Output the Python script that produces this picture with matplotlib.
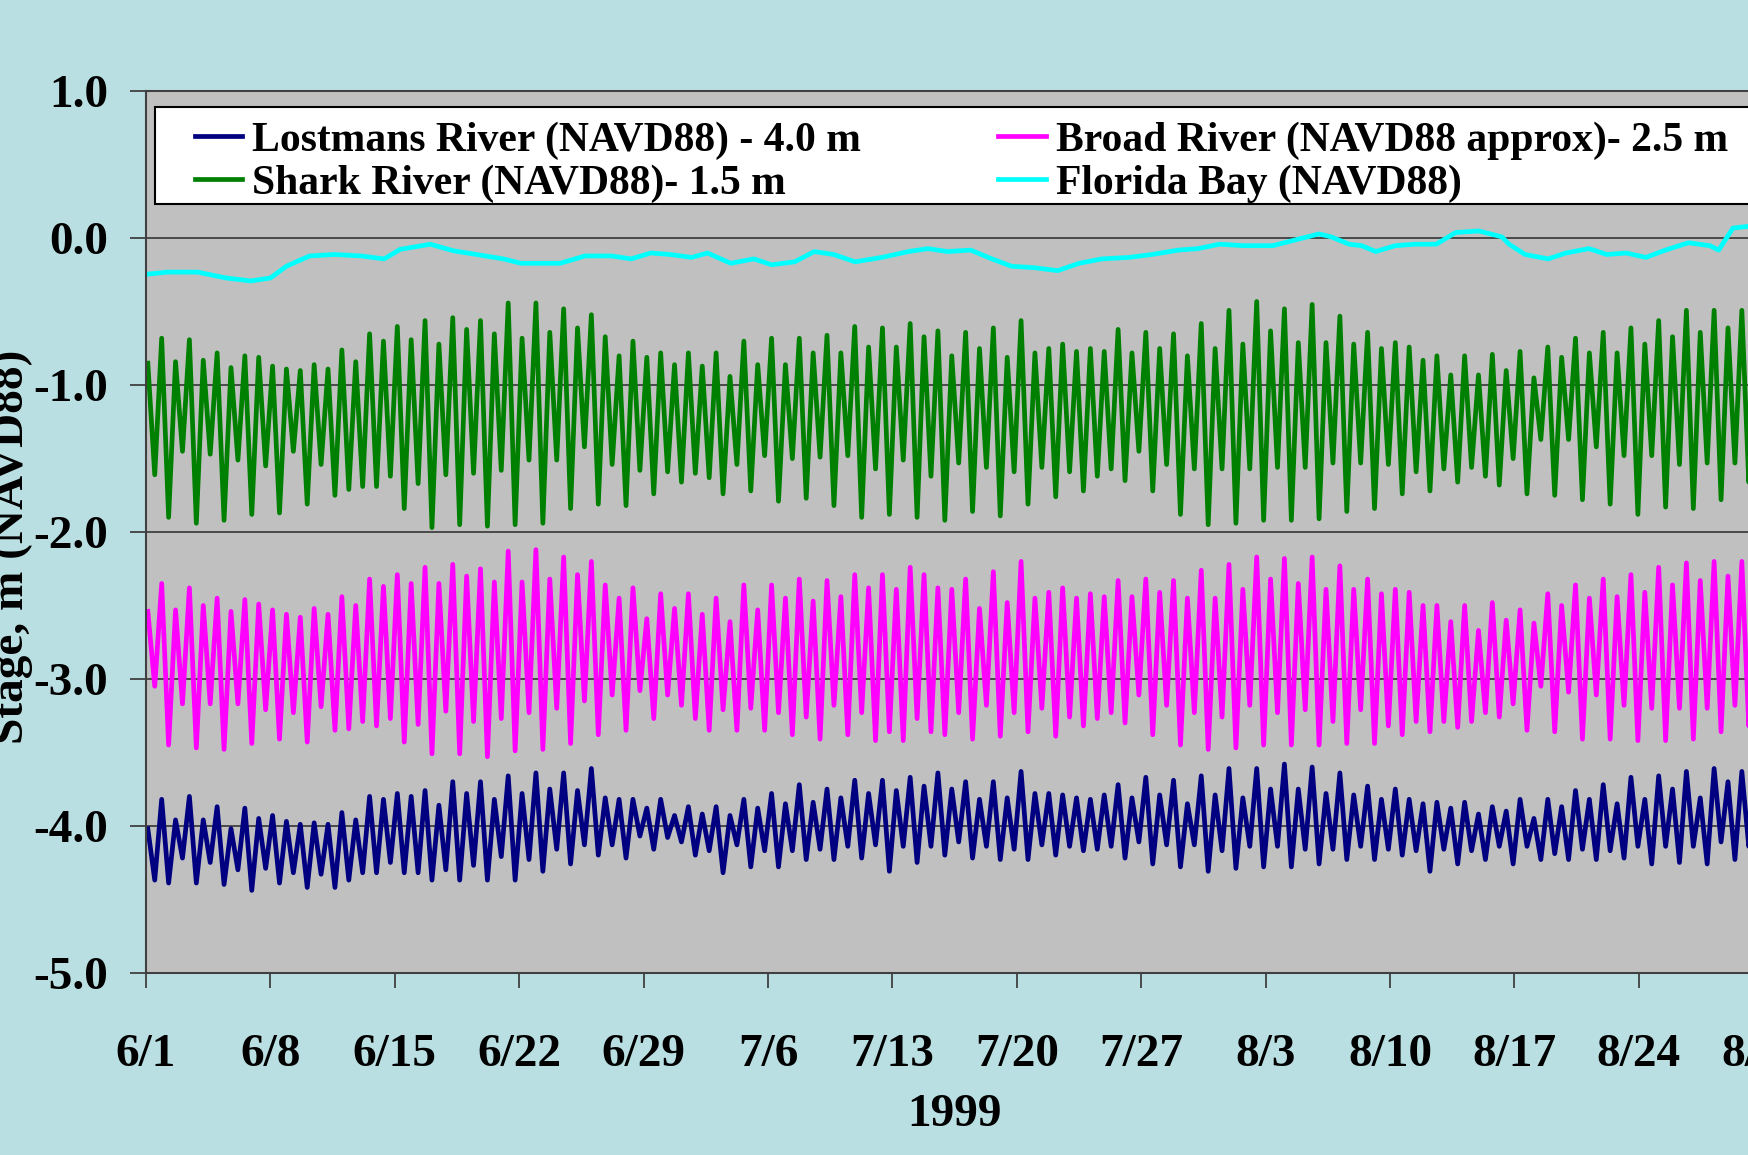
import numpy as np
import matplotlib.pyplot as plt
from matplotlib.lines import Line2D
from matplotlib.patches import Rectangle

plt.rcParams['font.family'] = ['Liberation Serif', 'DejaVu Serif']
plt.rcParams['font.weight'] = 'bold'

# x axis: days since 6/1/1999
tick_days = [0, 7, 14, 21, 28, 35, 42, 49, 56, 63, 70, 77, 84, 91]
tick_labels = ['6/1', '6/8', '6/15', '6/22', '6/29', '7/6', '7/13', '7/20',
               '7/27', '8/3', '8/10', '8/17', '8/24', '8/31']

# high / low water of each visible tide cycle (stage, m, offsets included)
shark_hi = [-0.85, -0.68, -0.84, -0.69, -0.83, -0.78, -0.88, -0.80, -0.81, -0.87,
            -0.89, -0.90, -0.86, -0.89, -0.76, -0.84, -0.65, -0.70, -0.60, -0.69,
            -0.56, -0.72, -0.54, -0.62, -0.56, -0.65, -0.44, -0.68, -0.44, -0.64,
            -0.48, -0.61, -0.52, -0.67, -0.80, -0.70, -0.81, -0.78, -0.86, -0.78,
            -0.87, -0.78, -0.94, -0.70, -0.86, -0.68, -0.86, -0.68, -0.78, -0.66,
            -0.78, -0.60, -0.74, -0.61, -0.74, -0.58, -0.67, -0.63, -0.80,
            -0.64, -0.75, -0.61, -0.81, -0.56, -0.78, -0.75, -0.72, -0.77, -0.75,
            -0.77, -0.62, -0.78, -0.64, -0.75, -0.65, -0.80, -0.58, -0.75, -0.49,
            -0.72, -0.43, -0.63, -0.48, -0.71, -0.45, -0.71, -0.53, -0.72, -0.64,
            -0.75, -0.71, -0.74, -0.83, -0.80, -0.93, -0.80, -0.93, -0.79,
            -0.90, -0.77, -0.95, -0.74, -0.81, -0.68, -0.78, -0.64, -0.78, -0.61,
            -0.72, -0.56, -0.67, -0.49, -0.64, -0.49, -0.61, -0.49, -0.60]
shark_lo = [-1.61, -1.90, -1.45, -1.94, -1.47, -1.92, -1.51, -1.88, -1.55, -1.87,
            -1.45, -1.81, -1.54, -1.75, -1.71, -1.69, -1.69, -1.62, -1.84, -1.67,
            -1.97, -1.61, -1.95, -1.60, -1.96, -1.58, -1.95, -1.51, -1.94,
            -1.51, -1.84, -1.42, -1.81, -1.54, -1.82, -1.58, -1.74, -1.59, -1.66,
            -1.60, -1.63, -1.74, -1.54, -1.72, -1.48, -1.79, -1.50, -1.77, -1.49,
            -1.82, -1.48, -1.90, -1.57, -1.88, -1.51, -1.90, -1.62, -1.92, -1.53,
            -1.86, -1.56, -1.89, -1.59, -1.81, -1.56, -1.76, -1.59, -1.72, -1.62,
            -1.57, -1.65, -1.45, -1.72, -1.54, -1.88, -1.57, -1.95, -1.57,
            -1.94, -1.57, -1.92, -1.56, -1.92, -1.56, -1.91, -1.53, -1.86, -1.53,
            -1.84, -1.54, -1.74, -1.59, -1.72, -1.57, -1.66, -1.56, -1.62, -1.68,
            -1.50, -1.74, -1.37, -1.75, -1.37, -1.78, -1.42, -1.81, -1.48, -1.88,
            -1.48, -1.83, -1.54, -1.84, -1.53, -1.78, -1.53, -1.66, -1.55]

broad_hi = [-2.54, -2.35, -2.53, -2.38, -2.50, -2.45, -2.54, -2.46, -2.49, -2.53,
            -2.56, -2.58, -2.52, -2.56, -2.44, -2.50, -2.32, -2.37, -2.29, -2.35,
            -2.24, -2.35, -2.22, -2.30, -2.25, -2.34, -2.13, -2.34, -2.12,
            -2.32, -2.17, -2.29, -2.20, -2.36, -2.45, -2.38, -2.59, -2.42, -2.52, -2.42,
            -2.56, -2.45, -2.61, -2.36, -2.53, -2.36, -2.45, -2.32, -2.47, -2.33,
            -2.44, -2.29, -2.38, -2.29, -2.39, -2.24, -2.29, -2.38, -2.39,
            -2.32,
            -2.52, -2.27, -2.48, -2.20, -2.45, -2.41, -2.38, -2.45, -2.42, -2.44,
            -2.33, -2.44, -2.32, -2.41, -2.33, -2.45, -2.26, -2.45, -2.22,
            -2.39, -2.17, -2.32, -2.18, -2.35, -2.17, -2.39, -2.23, -2.39, -2.32,
            -2.42, -2.39, -2.41, -2.50, -2.50, -2.61, -2.50, -2.67, -2.48,
            -2.60,
            -2.53, -2.62, -2.42, -2.50, -2.36, -2.45, -2.32, -2.44, -2.29, -2.41,
            -2.24, -2.36, -2.21, -2.33, -2.20, -2.30, -2.20, -2.29]
broad_lo = [-3.05, -3.45, -3.17, -3.47, -3.17, -3.48, -3.17, -3.44, -3.21, -3.41,
            -3.23, -3.43, -3.19, -3.35, -3.34, -3.29, -3.32, -3.27, -3.43, -3.31,
            -3.51, -3.22, -3.51, -3.29, -3.53, -3.27, -3.49, -3.23,
            -3.48, -3.20, -3.44, -3.15, -3.38, -3.11, -3.35, -3.08, -3.27, -3.11, -3.18,
            -3.27, -3.35, -3.21, -3.35, -3.20, -3.35, -3.23, -3.38, -3.26, -3.41,
            -3.18, -3.38, -3.23, -3.42, -3.36, -3.42, -3.27, -3.36, -3.38, -3.23,
            -3.41, -3.18, -3.39, -3.23, -3.36, -3.20, -3.39, -3.26, -3.32, -3.27,
            -3.23, -3.30, -3.11, -3.38, -3.18, -3.45, -3.23, -3.48, -3.26,
            -3.47, -3.18, -3.45, -3.23, -3.45, -3.21, -3.45, -3.29, -3.44, -3.21,
            -3.44, -3.32, -3.38, -3.29, -3.36, -3.29, -3.33, -3.29, -3.23, -3.26,
            -3.17, -3.35, -3.05, -3.36, -3.09, -3.41, -3.11, -3.41, -3.18, -3.42,
            -3.20, -3.42, -3.20, -3.41, -3.20, -3.36, -3.18, -3.32, -3.20]

lost_hi = [-4.02, -3.82, -3.96, -3.80, -3.96, -3.87, -4.02, -3.88, -3.95, -3.93,
           -3.97, -3.99, -3.98, -3.99, -3.91, -3.96, -3.80, -3.82, -3.78, -3.80,
           -3.76, -3.86, -3.70, -3.78, -3.70, -3.82, -3.66, -3.78, -3.64,
           -3.75, -3.64, -3.76, -3.61, -3.81, -3.82, -3.82, -3.88, -3.82, -3.93, -3.87,
           -3.92, -3.87, -3.93, -3.82, -3.88, -3.78, -3.85, -3.72, -3.84, -3.75,
           -3.81, -3.69, -3.78, -3.69, -3.76, -3.67, -3.73, -3.64, -3.75,
           -3.70,
           -3.82, -3.70, -3.81, -3.63, -3.78, -3.78, -3.79, -3.81, -3.82, -3.79,
           -3.72, -3.81, -3.67, -3.79, -3.69, -3.85, -3.66, -3.79, -3.61,
           -3.81, -3.61, -3.75, -3.58, -3.75, -3.60, -3.78, -3.64, -3.79, -3.73,
           -3.82, -3.75, -3.82, -3.85, -3.84, -3.88, -3.84, -3.92, -3.87,
           -3.90,
           -3.82, -3.95, -3.82, -3.87, -3.76, -3.82, -3.72, -3.85, -3.67, -3.82,
           -3.66, -3.75, -3.63, -3.81, -3.61, -3.70, -3.63, -3.69]
lost_lo = [-4.37, -4.39, -4.22, -4.39, -4.25, -4.40, -4.30, -4.44, -4.29, -4.39,
           -4.32, -4.42, -4.33, -4.42, -4.37, -4.32, -4.32, -4.25, -4.32, -4.32,
           -4.37, -4.30, -4.37, -4.27, -4.37, -4.21, -4.37, -4.23,
           -4.31, -4.16, -4.26, -4.13, -4.20, -4.13, -4.22, -4.07, -4.16, -4.08, -4.11,
           -4.20, -4.17, -4.32, -4.13, -4.28, -4.17, -4.28, -4.17, -4.23, -4.16,
           -4.23, -4.14, -4.22, -4.13, -4.31, -4.14, -4.25, -4.14, -4.20, -4.11,
           -4.22, -4.14, -4.23, -4.16, -4.23, -4.13, -4.20, -4.14, -4.17, -4.16,
           -4.14, -4.22, -4.11, -4.26, -4.13, -4.28, -4.13, -4.31, -4.17,
           -4.29, -4.14, -4.28, -4.14, -4.28, -4.16, -4.26, -4.16, -4.23, -4.14,
           -4.23, -4.16, -4.20, -4.17, -4.31, -4.16, -4.26, -4.17, -4.23, -4.14,
           -4.26, -4.14, -4.23, -4.19, -4.23, -4.16, -4.23, -4.17, -4.22, -4.14,
           -4.26, -4.14, -4.25, -4.14, -4.26, -4.11, -4.23, -4.14, -4.20]

# Florida Bay
bay_day = [0, 1.2, 2.9, 4.5, 5.9, 7.0, 7.9, 9.2, 10.6, 12.1, 13.4, 14.3, 16.0, 17.3,
           18.6, 20.1, 21.1, 22.4, 23.3, 24.7, 26.2, 27.3, 28.4, 29.5, 30.7, 31.6,
           32.9, 34.2, 35.2, 36.5, 37.6, 38.7, 39.9, 41.4, 42.9, 44.0, 45.1, 46.4,
           47.6, 48.7, 50.0, 51.3, 52.5, 53.8, 55.3, 56.6, 58.1, 59.2, 60.4, 61.8,
           63.4, 64.7, 66.0, 66.7, 67.7, 68.4, 69.2, 70.3, 71.4, 72.6, 73.7, 75.0,
           76.3, 76.7, 77.6, 78.9, 79.9, 81.2, 82.2, 83.3, 84.4, 85.5, 86.8, 88.0,
           88.5, 89.3, 90.4, 91.0]
bay_stage = [-0.245, -0.23, -0.23, -0.27, -0.29, -0.27, -0.19, -0.12, -0.11, -0.12,
             -0.14, -0.075, -0.04, -0.085, -0.11, -0.14, -0.17, -0.17, -0.17, -0.12,
             -0.12, -0.14, -0.10, -0.11, -0.13, -0.10, -0.17, -0.14, -0.18, -0.16,
             -0.09, -0.11, -0.16, -0.13, -0.09, -0.07, -0.09, -0.08, -0.14, -0.19,
             -0.20, -0.22, -0.17, -0.14, -0.13, -0.11, -0.08, -0.07, -0.04, -0.05,
             -0.05, -0.01, 0.03, 0.01, -0.04, -0.05, -0.09, -0.05, -0.04, -0.04,
             0.04, 0.05, 0.01, -0.04, -0.11, -0.14, -0.10, -0.07, -0.11, -0.10,
             -0.13, -0.08, -0.03, -0.05, -0.08, 0.07, 0.085, 0.09]

labels = ['Lostmans River (NAVD88) - 4.0 m', 'Broad River (NAVD88 approx)- 2.5 m',
          'Shark River (NAVD88)- 1.5 m', 'Florida Bay (NAVD88)']
colors = ['#000080', '#FF00FF', '#008000', '#00FFFF']

# one tide cycle every 0.78 day, high then low
t_hi = 0.1 + 0.78 * np.arange(len(shark_hi))
t_lo = t_hi + 0.39


def tide_trace(hi, lo):
    x = np.column_stack([t_hi, t_lo]).ravel()
    y = np.column_stack([hi, lo]).ravel()
    return x, y


fig = plt.figure(figsize=(17.49, 11.55), dpi=100)
fig.patch.set_facecolor('#BADFE2')
ax = fig.add_axes([0.0835, 0.1579, 0.9246, 0.7629])
ax.set_facecolor('#C0C0C0')

ax.plot(*tide_trace(lost_hi, lost_lo), color=colors[0], lw=3.4)
ax.plot(*tide_trace(broad_hi, broad_lo), color=colors[1], lw=3.4)
ax.plot(*tide_trace(shark_hi, shark_lo), color=colors[2], lw=3.4)
ax.plot(bay_day, bay_stage, color=colors[3], lw=3.4)

ax.set_xlim(0, 91)
ax.set_ylim(-5, 1)
ax.set_yticks(np.arange(-5, 1.01, 1.0))
ax.set_yticklabels(['%.1f' % v for v in np.arange(-5, 1.01, 1.0)])
ax.set_xticks(tick_days)
ax.set_xticklabels(tick_labels)
ax.grid(axis='y', color='#404040', lw=1.3)
ax.set_axisbelow(True)
ax.tick_params(axis='y', direction='out', length=11.5, width=1.3, color='#404040',
               labelsize=34, pad=16)
ax.tick_params(axis='x', direction='out', length=11, width=1.3, color='#404040',
               labelsize=34, pad=33)
for s in ['left', 'bottom', 'top']:
    ax.spines[s].set_color('#404040')
    ax.spines[s].set_linewidth(1.5)
ax.spines['right'].set_visible(False)

ax.set_xlabel('1999', fontsize=34, fontweight='bold', labelpad=13)
fig.text(0.007, 0.527, 'Stage, m (NAVD88)', rotation=90, fontsize=34,
         fontweight='bold', ha='center', va='center')

# legend box running off the right edge
ax.add_patch(Rectangle((0.0055, 0.8724), 1.2, 0.11, transform=ax.transAxes,
                       facecolor='white', edgecolor='black', lw=1.5,
                       clip_on=False, zorder=4))
handles = [Line2D([], [], color=c, lw=3.4) for c in colors]
order = [0, 2, 1, 3]
leg = ax.legend([handles[i] for i in order], [labels[i] for i in order],
                loc='upper left', bbox_to_anchor=(0.0302, 0.966), ncol=2,
                frameon=False, fontsize=30, handlelength=1.13,
                handletextpad=0.24, columnspacing=3.30, labelspacing=0.1,
                borderpad=0, borderaxespad=0)
leg.set_zorder(5)
for t in leg.get_texts():
    t.set_fontweight('bold')

fig.savefig('out.png', dpi=100, facecolor=fig.get_facecolor())
